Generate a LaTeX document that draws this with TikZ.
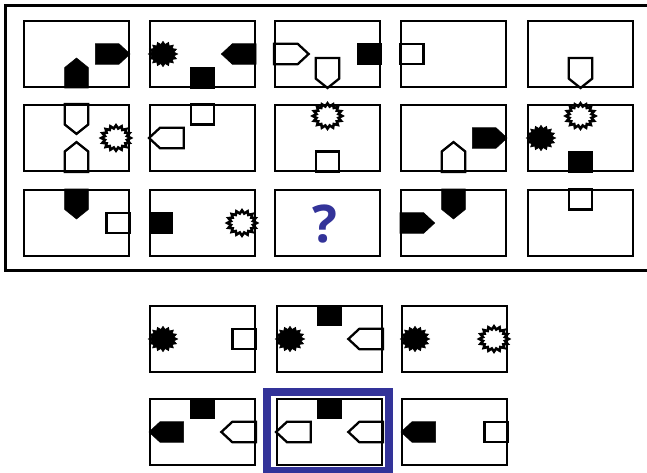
\documentclass[tikz,border=0pt]{standalone}
\usepackage{fontspec}
\newfontfamily\qfont{Open Sans}
\definecolor{qblue}{RGB}{51,51,153}
\tikzset{
  panel/.style={draw=black, line width=2.9pt},
  fshape/.style={fill=black, draw=black, line width=0.6pt},
  wshape/.style={fill=white, draw=black, line width=2.3pt},
  wstar/.style={fill=white, draw=black, line width=2.6pt},
  outerframe/.style={draw=black, line width=3pt},
  choiceframe/.style={draw=qblue, line width=8pt},
}
% arrow (pentagon): style, base-centre x, y, direction angle
\newcommand\Parrow[4]{%
  \begin{scope}[shift={(#2,#3)}, xscale=1.1, yscale=0.95, rotate=#4]
    \path[#1] (0,-10.75) -- (21.5,-10.75) -- (31.5,0) -- (21.5,10.75) -- (0,10.75) -- cycle;
  \end{scope}}
% square: style, centre x, y
\newcommand\Psq[3]{%
  \path[#1] ({#2-11.75},{#3-10.25}) rectangle ({#2+11.75},{#3+10.25});}
% star (sunburst): style, centre x, y
\newcommand\Pstar[3]{%
  \begin{scope}[shift={(#2,#3)}, xscale=1.1, yscale=0.95]
    \path[#1] (0:13.3) \foreach \a in {0,22.5,...,337.5} { -- ({\a+11.25}:10.2) -- ({\a+22.5}:13.3) } -- cycle;
  \end{scope}}
% panel: top-left x, y, contents
\newcommand\Ppanel[3]{%
  \begin{scope}[shift={(#1,#2)}]
    #3
    \draw[panel] (1,1) rectangle (106,67);
  \end{scope}}
\begin{document}
\begin{tikzpicture}[x=1pt, y=-1pt]
\useasboundingbox (0,0) rectangle (647,473);
\fill[white] (0,0) rectangle (647,473);
\draw[outerframe] (5.5,5.5) rectangle (665,270);

% ---- row 1
\Ppanel{23}{20}{\Parrow{fshape}{72.35}{34}{0}\Parrow{fshape}{53.5}{68}{90}}
\Ppanel{149}{20}{\Pstar{fshape}{14}{34}\Psq{fshape}{53.5}{57.75}\Parrow{fshape}{107}{34}{180}}
\Ppanel{274}{20}{\Parrow{wshape}{0}{34}{0}\Parrow{wshape}{53.5}{38.1}{270}\Psq{fshape}{95.25}{34}}
\Ppanel{400}{20}{\Psq{wshape}{11.75}{34}}
\Ppanel{527}{20}{\Parrow{wshape}{53.5}{38.1}{270}}

% ---- row 2
\Ppanel{23}{104}{\Parrow{wshape}{53.5}{0}{270}\Parrow{wshape}{53.5}{68}{90}\Pstar{wstar}{93}{34}}
\Ppanel{149}{104}{\Psq{wshape}{53.5}{10.25}\Parrow{wshape}{34.65}{34}{180}}
\Ppanel{274}{104}{\Pstar{wstar}{53.5}{12}\Psq{wshape}{53.5}{57.75}}
\Ppanel{400}{104}{\Parrow{wshape}{53.5}{68}{90}\Parrow{fshape}{72.35}{34}{0}}
\Ppanel{527}{104}{\Pstar{fshape}{14}{34}\Pstar{wstar}{53.5}{12}\Psq{fshape}{53.5}{57.75}}

% ---- row 3
\Ppanel{23}{189}{\Parrow{fshape}{53.5}{0}{270}\Psq{wshape}{95.25}{34}}
\Ppanel{149}{189}{\Psq{fshape}{11.75}{34}\Pstar{wstar}{93}{34}}
\Ppanel{274}{189}{\node[text=qblue, inner sep=0pt] (qmark) at (50.5,35) {\qfont\bfseries\fontsize{52}{60}\selectfont ?};}
\Ppanel{400}{189}{\Parrow{fshape}{0}{34}{0}\Parrow{fshape}{53.5}{0}{270}}
\Ppanel{527}{189}{\Psq{wshape}{53.5}{10.25}}

% ---- answer choices
\Ppanel{149}{305}{\Pstar{fshape}{14}{34}\Psq{wshape}{95.25}{34}}
\Ppanel{276}{305}{\Psq{fshape}{53.5}{10.25}\Pstar{fshape}{14}{34}\Parrow{wshape}{107}{34}{180}}
\Ppanel{401}{305}{\Pstar{fshape}{14}{34}\Pstar{wstar}{93}{34}}

\Ppanel{149}{398}{\Psq{fshape}{53.5}{10.25}\Parrow{fshape}{34.65}{34}{180}\Parrow{wshape}{107}{34}{180}}
\draw[choiceframe] (267,392) rectangle (389,471);
\Ppanel{276}{398}{\Psq{fshape}{53.5}{10.25}\Parrow{wshape}{34.65}{34}{180}\Parrow{wshape}{107}{34}{180}}
\Ppanel{401}{398}{\Parrow{fshape}{34.65}{34}{180}\Psq{wshape}{95.25}{34}}
\end{tikzpicture}
\end{document}
